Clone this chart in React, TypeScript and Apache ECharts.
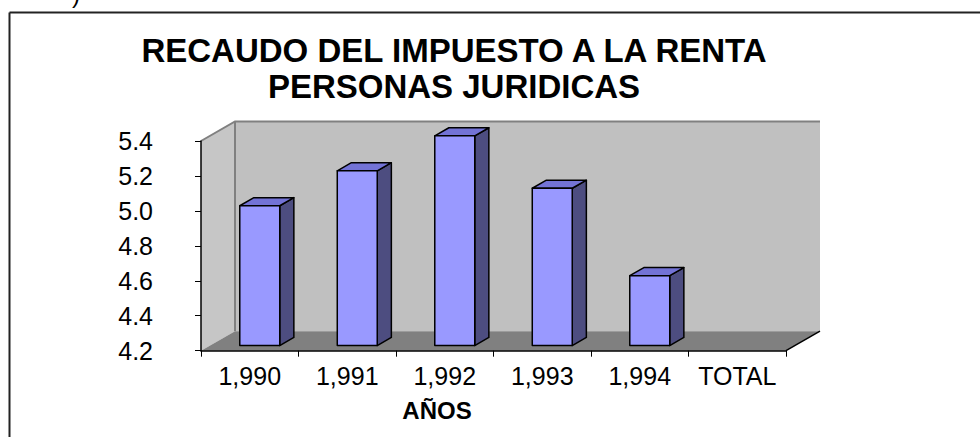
import React, { useEffect, useRef } from "react";
import * as echarts from "echarts";

const categories = ["1,990", "1,991", "1,992", "1,993", "1,994", "TOTAL"];
const recaudo: (number | null)[] = [5.0, 5.2, 5.4, 5.1, 4.6, null];
const yTicks = ["4.2", "4.4", "4.6", "4.8", "5.0", "5.2", "5.4"];
const titleLines = ["RECAUDO DEL IMPUESTO A LA RENTA", "PERSONAS JURIDICAS"];
const xName = "AÑOS";

const FONT = "'Liberation Sans', Arial, sans-serif";
const Y_MIN = Number(yTicks[0]);
const Y_MAX = Number(yTicks[yTicks.length - 1]);
const DX = 34;
const DY = -19.5;

export default function App() {
  const ref = useRef<HTMLDivElement>(null);
  useEffect(() => {
    if (!ref.current) return;
    const chart = echarts.init(ref.current, null, { renderer: "svg" });
    const barData = recaudo
      .map((v, i) => (v == null ? null : [i, v]))
      .filter((d) => d != null);

    const option: any = {
      animation: false,
      backgroundColor: "#ffffff",
      title: {
        text: titleLines.join("\n"),
        left: 449,
        top: 27,
        textAlign: "center",
        textStyle: {
          fontFamily: FONT,
          fontSize: 33,
          fontWeight: "bold",
          color: "#000",
          lineHeight: 36,
        },
      },
      grid: { left: 201, right: 194, top: 141, bottom: 86.3, containLabel: false },
      xAxis: {
        type: "category",
        data: categories,
        boundaryGap: true,
        axisLine: { show: true, lineStyle: { color: "#000", width: 1.5 } },
        axisTick: { show: true, length: 6, alignWithLabel: false, lineStyle: { color: "#000", width: 1 } },
        axisLabel: { color: "#000", fontFamily: FONT, fontSize: 25, margin: 13, interval: 0 },
        splitLine: { show: false },
        z: 5,
      },
      yAxis: {
        type: "value",
        min: Y_MIN,
        max: Y_MAX,
        interval: 0.2,
        axisLine: { show: true, lineStyle: { color: "#000", width: 1.5 } },
        axisTick: { show: true, length: 6, lineStyle: { color: "#000", width: 1 } },
        axisLabel: {
          color: "#000",
          fontFamily: FONT,
          fontSize: 25,
          margin: 48,
          formatter: (v: number) => v.toFixed(1),
        },
        splitLine: { show: false },
        z: 5,
      },
      graphic: [
        { type: "line", shape: { x1: 9.5, y1: 12.5, x2: 980, y2: 12.5 }, style: { stroke: "#222", lineWidth: 2 } },
        { type: "line", shape: { x1: 9.5, y1: 12.5, x2: 9.5, y2: 437 }, style: { stroke: "#222", lineWidth: 2 } },
        {
          type: "text",
          x: 76,
          y: -6,
          style: { text: ")", fontFamily: FONT, fontSize: 24, fill: "#000", align: "center", verticalAlign: "middle" },
        },
        {
          type: "text",
          x: 437,
          y: 410,
          style: {
            text: xName,
            fontFamily: FONT,
            fontSize: 24,
            fontWeight: "bold",
            fill: "#000",
            align: "center",
            verticalAlign: "middle",
          },
        },
      ],
      series: [
        {
          type: "custom",
          name: "walls",
          data: [[0]],
          z: 1,
          silent: true,
          renderItem: (params: any) => {
            const cs = params.coordSys;
            const x0 = cs.x, y0 = cs.y, w = cs.width, h = cs.height;
            const x1 = x0 + w, y1 = y0 + h;
            return {
              type: "group",
              children: [
                {
                  type: "rect",
                  shape: { x: x0 + DX, y: y0 + DY, width: w, height: h },
                  style: { fill: "#c0c0c0", stroke: "none" },
                },
                {
                  type: "polygon",
                  shape: { points: [[x0, y0], [x0 + DX, y0 + DY], [x0 + DX, y1 + DY], [x0, y1]] },
                  style: { fill: "#c6c6c6", stroke: "none" },
                },
                {
                  type: "polygon",
                  shape: { points: [[x0, y1], [x1, y1], [x1 + DX, y1 + DY], [x0 + DX, y1 + DY]] },
                  style: { fill: "#808080", stroke: "none" },
                },
                {
                  type: "polyline",
                  shape: { points: [[x0, y0], [x0 + DX, y0 + DY], [x1 + DX, y0 + DY]] },
                  style: { stroke: "#808080", lineWidth: 2, fill: "none" },
                },
                {
                  type: "line",
                  shape: { x1: x0 + DX, y1: y0 + DY, x2: x0 + DX, y2: y1 + DY },
                  style: { stroke: "#808080", lineWidth: 2 },
                },
                {
                  type: "line",
                  shape: { x1: x1, y1: y1, x2: x1 + DX, y2: y1 + DY },
                  style: { stroke: "#000", lineWidth: 1.5 },
                },
              ],
            };
          },
        },
        {
          type: "custom",
          name: "Recaudo",
          data: barData,
          z: 3,
          renderItem: (params: any, api: any) => {
            const idx = api.value(0);
            const v = api.value(1);
            const top = api.coord([idx, v]);
            const base = api.coord([idx, Y_MIN]);
            const cw = api.size([1, 0])[0];
            const bw = cw * 0.41;
            const f0 = 0.265;
            const f1 = 0.68;
            const ox = DX * f0, oy = DY * f0;
            const ddx = DX * (f1 - f0), ddy = DY * (f1 - f0);
            const cx = top[0] + 1 + ox;
            const l = cx - bw / 2, r = cx + bw / 2;
            const t = top[1] + oy, b = base[1] + oy;
            const stroke = { stroke: "#000", lineWidth: 1.5, lineJoin: "round" };
            return {
              type: "group",
              children: [
                {
                  type: "polygon",
                  shape: { points: [[r, t], [r + ddx, t + ddy], [r + ddx, b + ddy], [r, b]] },
                  style: { fill: "#4d4d80", ...stroke },
                },
                {
                  type: "polygon",
                  shape: { points: [[l, t], [l + ddx, t + ddy], [r + ddx, t + ddy], [r, t]] },
                  style: { fill: "#7373d6", ...stroke },
                },
                {
                  type: "rect",
                  shape: { x: l, y: t, width: bw, height: b - t },
                  style: { fill: "#9999ff", ...stroke },
                },
              ],
            };
          },
        },
      ],
    };
    chart.setOption(option);
    return () => chart.dispose();
  }, []);
  return (
    <div
      ref={ref}
      style={{ position: "fixed", left: 0, top: 0, width: 980, height: 437 }}
    />
  );
}
